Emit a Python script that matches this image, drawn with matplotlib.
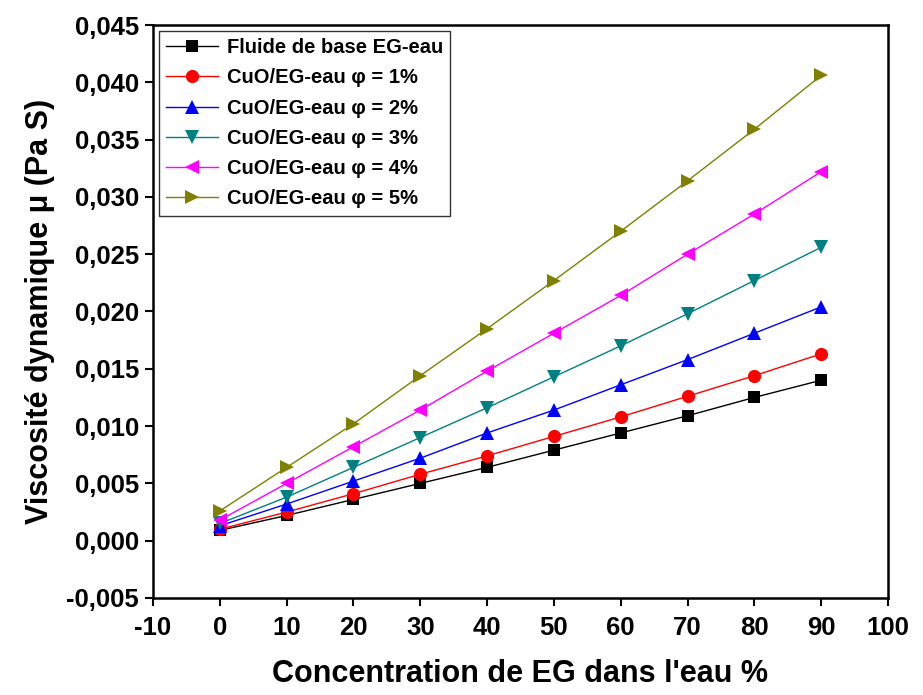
import matplotlib
matplotlib.use("Agg")
import matplotlib.pyplot as plt
from matplotlib.ticker import FuncFormatter, MultipleLocator

plt.rcParams['font.family'] = ['Liberation Sans', 'DejaVu Sans']
plt.rcParams['font.weight'] = 'bold'

conc_eg = [0, 10, 20, 30, 40, 50, 60, 70, 80, 90]

base_fluid = [0.0009, 0.0022, 0.0036, 0.0050, 0.0064, 0.0079, 0.0094, 0.0109, 0.0125, 0.0140]
cuo_1 = [0.0010, 0.0025, 0.0041, 0.0058, 0.0074, 0.0091, 0.0108, 0.0126, 0.0144, 0.0163]
cuo_2 = [0.0013, 0.0032, 0.0052, 0.0072, 0.0094, 0.0114, 0.0136, 0.0158, 0.0181, 0.0204]
cuo_3 = [0.0015, 0.0038, 0.0064, 0.0090, 0.0116, 0.0143, 0.0170, 0.0198, 0.0227, 0.0256]
cuo_4 = [0.0018, 0.0050, 0.0082, 0.0114, 0.0148, 0.0181, 0.0214, 0.0250, 0.0285, 0.0322]
cuo_5 = [0.0026, 0.0064, 0.0102, 0.0144, 0.0185, 0.0227, 0.0270, 0.0314, 0.0359, 0.0406]

labels = [
    "Fluide de base EG-eau",
    "CuO/EG-eau \u03c6 = 1%",
    "CuO/EG-eau \u03c6 = 2%",
    "CuO/EG-eau \u03c6 = 3%",
    "CuO/EG-eau \u03c6 = 4%",
    "CuO/EG-eau \u03c6 = 5%",
]
series = [base_fluid, cuo_1, cuo_2, cuo_3, cuo_4, cuo_5]
colors = ["#000000", "#ff0000", "#0000ff", "#008080", "#ff00ff", "#808000"]
markers = ["s", "o", "^", "v", "<", ">"]
sizes = [8, 9.5, 10, 10, 10, 10]

fig = plt.figure(figsize=(9.23, 6.95), dpi=100)
ax = fig.add_axes([0.1658, 0.1396, 0.7962, 0.8244])

for y, lab, c, m, s in zip(series, labels, colors, markers, sizes):
    ax.plot(conc_eg, y, color=c, marker=m, markersize=s, linewidth=1.0,
            markeredgewidth=0, label=lab)

ax.set_xlim(-10, 100)
ax.set_ylim(-0.005, 0.045)
ax.xaxis.set_major_locator(MultipleLocator(10))
ax.yaxis.set_major_locator(MultipleLocator(0.005))
ax.yaxis.set_major_formatter(FuncFormatter(lambda v, p: f"{v:.3f}".replace(".", ",")))
ax.xaxis.set_major_formatter(FuncFormatter(lambda v, p: f"{v:.0f}"))

for sp in ax.spines.values():
    sp.set_linewidth(1.8)
ax.tick_params(axis='both', direction='out', length=6, width=1.5,
               labelsize=18.5)
ax.tick_params(axis='x', pad=7)
ax.tick_params(axis='y', pad=4)
for lab in ax.get_xticklabels() + ax.get_yticklabels():
    lab.set_fontweight('bold')

ax.set_xlabel("Concentration de EG dans l'eau %", fontsize=22, fontweight='bold', labelpad=14)
ax.set_ylabel("Viscosit\u00e9 dynamique \u03bc (Pa S)", fontsize=22, fontweight='bold', labelpad=8)

leg = ax.legend(loc='upper left', fontsize=14.5, frameon=True, fancybox=False,
                borderaxespad=0.3, handlelength=2.6, labelspacing=0.56,
                borderpad=0.35, handletextpad=0.4)
leg.get_frame().set_edgecolor('black')
leg.get_frame().set_linewidth(1.0)
for t in leg.get_texts():
    t.set_fontweight('bold')

fig.savefig("out.png", dpi=100)
